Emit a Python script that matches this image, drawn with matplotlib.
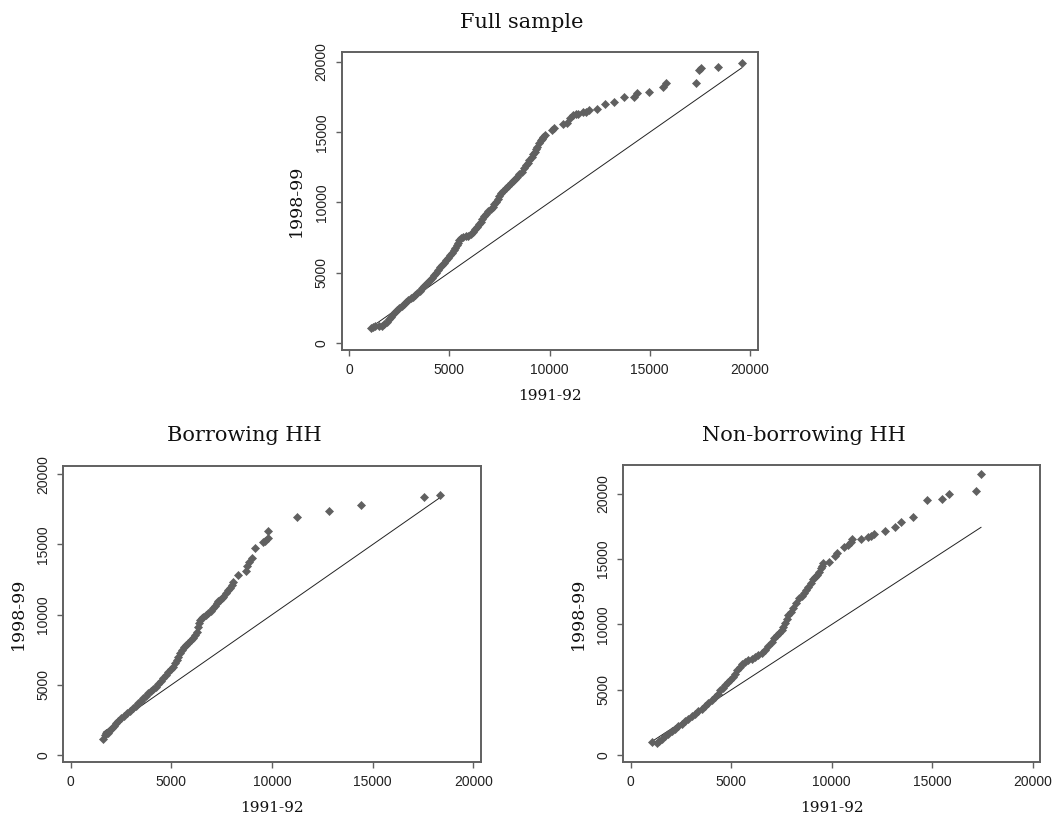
import numpy as np
import matplotlib
matplotlib.use("Agg")
from matplotlib import pyplot as plt

# quantile pairs: household values in 1991-92 (x) against 1998-99 (y)
x_full = [1080, 1190, 1300, 1480, 1650, 1760, 1880, 1980, 2080, 2190, 2294, 2400,
          2510, 2630, 2743, 2850, 2960, 3070, 3176, 3290, 3408, 3520, 3624, 3730,
          3840, 3940, 4040, 4140, 4240, 4330, 4422, 4520, 4622, 4730, 4838, 4940,
          5037, 5140, 5237, 5300, 5370, 5440, 5503, 5600, 5703, 5830, 5953, 6060,
          6170, 6270, 6370, 6470, 6570, 6650, 6733, 6840, 6950, 7060, 7167, 7250,
          7332, 7420, 7499, 7600, 7698, 7820, 7947, 8070, 8197, 8300, 8396, 8500,
          8612, 8720, 8828, 8910, 8994, 9112, 9200, 9280, 9340, 9400, 9480, 9570,
          9630, 9690, 9775, 10110, 10225, 10690, 10855, 11020, 11155, 11320, 11440,
          11685, 11820, 11985, 12370, 12785, 13200, 13700, 14230, 14380, 14980,
          15677, 15795, 17290, 17470, 17556, 18390, 19585]
y_full = [1070, 1110, 1180, 1190, 1210, 1350, 1494, 1680, 1850, 2030, 2207, 2350,
          2490, 2620, 2755, 2900, 3040, 3160, 3277, 3420, 3562, 3720, 3871, 4030,
          4180, 4320, 4465, 4640, 4821, 5000, 5178, 5360, 5534, 5710, 5890, 6070,
          6246, 6420, 6602, 6780, 6958, 7140, 7314, 7450, 7552, 7580, 7600, 7750,
          7908, 8090, 8264, 8440, 8620, 8820, 9025, 9200, 9381, 9540, 9689, 9870,
          10045, 10250, 10450, 10640, 10828, 11000, 11163, 11350, 11540, 11680, 11828, 12000,
          12184, 12420, 12660, 12840, 13015, 13250, 13450, 13610, 13780, 13965, 14200, 14440,
          14540, 14630, 14796, 15150, 15270, 15580, 15670, 15985, 16220, 16270, 16290,
          16410, 16460, 16580, 16625, 16980, 17170, 17525, 17525, 17810, 17880,
          18240, 18480, 18525, 19430, 19595, 19620, 19905]

x_borr = [1620, 1700, 1770, 1867, 1950, 2036, 2140, 2250, 2370, 2498, 2640, 2781,
          2930, 3079, 3220, 3357, 3480, 3606, 3730, 3854, 3980, 4102, 4230, 4351,
          4480, 4599, 4720, 4847, 4960, 5065, 5160, 5264, 5350, 5428, 5530, 5627,
          5740, 5841, 5950, 6059, 6160, 6258, 6338, 6380, 6422, 6500, 6586, 6710,
          6834, 6960, 7082, 7170, 7251, 7330, 7415, 7500, 7579, 7700, 7827, 7910,
          7996, 8076, 8324, 8706, 8771, 8870, 8989, 9153, 9566, 9650, 9815, 9815,
          11224, 12844, 14418, 17547, 18343]
y_borr = [1140, 1400, 1560, 1591, 1750, 1902, 2080, 2258, 2440, 2615, 2790, 2971,
          3150, 3327, 3500, 3684, 3860, 4040, 4220, 4396, 4540, 4681, 4870, 5058,
          5260, 5465, 5700, 5936, 6110, 6294, 6530, 6769, 7000, 7245, 7460, 7672,
          7840, 8004, 8160, 8313, 8550, 8788, 9144, 9380, 9619, 9740, 9856, 9970,
          10094, 10270, 10451, 10650, 10852, 10950, 11044, 11160, 11281, 11520, 11756, 11930,
          12113, 12350, 12825, 13110, 13466, 13775, 14015, 14726, 15155, 15247, 15437, 15960,
          16934, 17408, 17812, 18361, 18525]

x_nonb = [1075, 1323, 1430, 1542, 1710, 1871, 2040, 2204, 2370, 2537, 2700, 2866,
          3030, 3199, 3365, 3532, 3700, 3861, 4030, 4194, 4320, 4443, 4570, 4691,
          4815, 4940, 5065, 5189, 5310, 5438, 5560, 5687, 5850, 6020, 6180, 6348,
          6510, 6681, 6850, 7015, 7140, 7264, 7390, 7512, 7595, 7677, 7760, 7841,
          7960, 8090, 8240, 8392, 8510, 8624, 8730, 8839, 8960, 9088, 9170, 9254,
          9350, 9453, 9520, 9586, 9881, 10164, 10248, 10627, 10826, 10945, 10994,
          11457, 11821, 11955, 12104, 12667, 13149, 13448, 14029, 14741, 15502,
          15836, 17179, 17428]
y_nonb = [1018, 941, 1110, 1276, 1470, 1659, 1850, 2041, 2230, 2424, 2615, 2806,
          3000, 3189, 3380, 3572, 3790, 4006, 4240, 4465, 4720, 4975, 5170, 5358,
          5575, 5792, 6020, 6250, 6500, 6760, 6950, 7143, 7270, 7398, 7530, 7654,
          7850, 8037, 8350, 8672, 8930, 9185, 9380, 9567, 9820, 10080, 10400, 10716,
          10970, 11228, 11610, 11990, 12180, 12372, 12620, 12883, 13160, 13444, 13610, 13775,
          14030, 14286, 14500, 14719, 14796, 15254, 15438, 15943, 16073, 16327, 16506,
          16532, 16660, 16762, 16915, 17145, 17474, 17834, 18240, 19518, 19594,
          19977, 20207, 21507]

titles = ["Full sample", "Borrowing HH", "Non-borrowing HH"]
ticks = [0, 5000, 10000, 15000, 20000]

SERIF = "DejaVu Serif"
FRAME = "#606060"
DOTS = "#606060"

fig = plt.figure(figsize=(10.54, 8.17), dpi=100)

panels = [
    ([0.3242, 0.5716, 0.3950, 0.3647], x_full, y_full, (-364, 20399), (-520, 20713)),
    ([0.0601, 0.0670, 0.3960, 0.3630], x_borr, y_borr, (-368, 20362), (-520, 20613)),
    ([0.5914, 0.0670, 0.3953, 0.3635], x_nonb, y_nonb, (-368, 20363), (-536, 22174)),
]

for (pos, xs, ys, xl, yl), title in zip(panels, titles):
    ax = fig.add_axes(pos)
    xs = np.array(xs)
    ys = np.array(ys)

    # line of equality over the range of the earlier survey
    lo, hi = xs.min(), xs.max()
    ax.plot([lo, hi], [lo, hi], color="#222222", lw=0.7, zorder=2)
    ax.plot(xs, ys, linestyle="none", marker="D", ms=3.9, mew=0.5,
            color=DOTS, mec=DOTS, zorder=3)

    ax.set_xlim(*xl)
    ax.set_ylim(*yl)
    ax.set_xticks(ticks)
    ax.set_yticks(ticks)
    ax.set_xticklabels([str(t) for t in ticks])
    ax.set_yticklabels([str(t) for t in ticks], rotation=90, va="center")
    ax.tick_params(direction="out", length=4.5, width=1, color=FRAME,
                   labelsize=10, labelcolor="#222222", pad=5)
    for lab in ax.get_xticklabels() + ax.get_yticklabels():
        lab.set_family("Liberation Sans")
    for sp in ax.spines.values():
        sp.set_color(FRAME)
        sp.set_linewidth(1.4)

    w_px = pos[2] * 1054
    h_px = pos[3] * 817
    ax.text(0.5 - 28 / w_px, 1 + 30 / h_px, title, transform=ax.transAxes,
            ha="center", va="center", family=SERIF, fontsize=15, color="#111111")
    ax.text(0.5, -46 / h_px, "1991-92", transform=ax.transAxes,
            ha="center", va="center", family=SERIF, fontsize=11, color="#111111")
    ax.text(-45 / w_px, 0.5, "1998-99", transform=ax.transAxes, rotation=90,
            ha="center", va="center", family=SERIF, fontsize=12.5, color="#111111")

fig.savefig("out.png", dpi=100)
